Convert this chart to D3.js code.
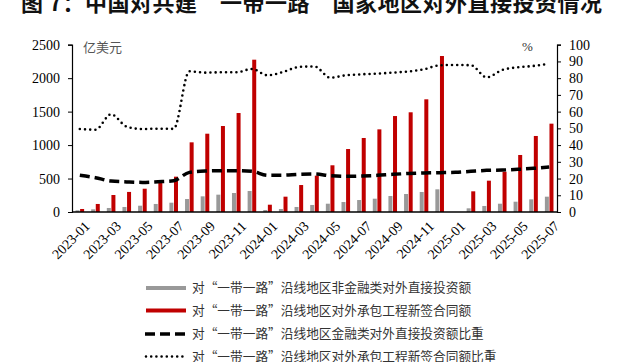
<!DOCTYPE html>
<html>
<head>
<meta charset="utf-8">
<script src="https://cdn.jsdelivr.net/npm/d3@7/dist/d3.min.js"></script>
<style>
  body { margin: 0; background: #fff; }
  svg { display: block; }
  .tick text { font-family: "Liberation Serif", "Times New Roman", serif; font-size: 14px; fill: #000; }
  .cn { font-family: "Noto Sans CJK SC", sans-serif; }
</style>
</head>
<body>
<div id="chart"></div>
<script>
// month labels
const months = [
  "2023-01","2023-02","2023-03","2023-04","2023-05","2023-06","2023-07","2023-08",
  "2023-09","2023-10","2023-11","2023-12","2024-01","2024-02","2024-03","2024-04",
  "2024-05","2024-06","2024-07","2024-08","2024-09","2024-10","2024-11","2024-12",
  "2025-01","2025-02","2025-03","2025-04","2025-05","2025-06","2025-07"
];
// 亿美元
const nonFinInvest = [25,40,60,75,94,120,139,194,234,259,284,314,
  30,45,75,105,124,149,179,199,239,269,299,339,
  null,55,90,124,154,189,229];
const contractNew = [45,120,254,300,348,468,528,1041,1170,1285,1479,2276,
  109,229,403,543,698,941,1106,1235,1434,1490,1684,2331,
  null,309,468,602,852,1136,1320];
// %
const finShare = [22,20.5,18.5,18,17.7,18.1,18.7,23.7,24.5,24.7,24.7,24.3,
  21.9,22,22.5,22.7,21.7,21.3,21.5,21.9,22.5,23,23.3,23.5,
  23.7,24.3,24.9,25.1,25.5,26.1,26.9];
const contractShare = [49.6,49.2,58.4,51,49.6,49.8,49.7,84.1,83.3,83.5,83.5,85.5,
  81.7,83.7,86.7,87,80.3,81.7,82.3,82.7,83.3,84,85.3,87.7,
  87.9,87.7,80.5,84.9,86.5,87.3,88.6];

const leftTicks = [0,500,1000,1500,2000,2500];
const rightTicks = [0,10,20,30,40,50,60,70,80,90,100];
const xLabels = months.filter((m, i) => i % 2 === 0);

const legendItems = [
  "对“一带一路”沿线地区非金融类对外直接投资额",
  "对“一带一路”沿线地区对外承包工程新签合同额",
  "对“一带一路”沿线地区金融类对外直接投资额比重",
  "对“一带一路”沿线地区对外承包工程新签合同额比重"
];

const width = 626, height = 362;
const plotL = 72, plotR = 557, plotT = 44.7, plotB = 212;

const svg = d3.select("#chart").append("svg")
  .attr("width", width)
  .attr("height", height);

// title (cut off at the top in the original)
svg.append("text")
  .attr("class", "cn")
  .attr("x", 21)
  .attr("y", 11)
  .style("font-size", "22px")
  .style("font-weight", "bold")
  .style("letter-spacing", "0.5px")
  .attr("fill", "#111")
  .text("图 7：中国对共建“一带一路”国家地区对外直接投资情况");

const x = d3.scaleBand().domain(months).range([plotL, plotR]).padding(0);
const yL = d3.scaleLinear().domain([0, 2500]).range([plotB, plotT]);
const yR = d3.scaleLinear().domain([0, 100]).range([plotB, plotT]);

const barW = 4;

// bars
svg.selectAll(".gray")
  .data(months.map((m, i) => ({ m, v: nonFinInvest[i] })).filter(d => d.v != null))
  .enter().append("rect")
  .attr("x", d => x(d.m) + x.bandwidth() / 2 - barW - 0.3)
  .attr("y", d => yL(d.v))
  .attr("width", barW)
  .attr("height", d => plotB - yL(d.v))
  .attr("fill", "#999999");

svg.selectAll(".red")
  .data(months.map((m, i) => ({ m, v: contractNew[i] })).filter(d => d.v != null))
  .enter().append("rect")
  .attr("x", d => x(d.m) + x.bandwidth() / 2 + 0.3)
  .attr("y", d => yL(d.v))
  .attr("width", barW)
  .attr("height", d => plotB - yL(d.v))
  .attr("fill", "#c00000");

// lines
const cx = m => x(m) + x.bandwidth() / 2;
const line = d3.line()
  .x((d, i) => cx(months[i]))
  .y(d => yR(d))
  .curve(d3.curveMonotoneX);

svg.append("path")
  .attr("d", line(finShare))
  .attr("fill", "none")
  .attr("stroke", "#000")
  .attr("stroke-width", 3.5)
  .attr("stroke-dasharray", "10,5");

svg.append("path")
  .attr("d", line(contractShare))
  .attr("fill", "none")
  .attr("stroke", "#000")
  .attr("stroke-width", 2.6)
  .attr("stroke-linecap", "round")
  .attr("stroke-dasharray", "0,5.2");

// axes
const axL = svg.append("g")
  .attr("transform", "translate(" + plotL + ",0)")
  .call(d3.axisLeft(yL).tickValues(leftTicks).tickSize(4).tickPadding(8).tickFormat(d3.format("d")));
const axR = svg.append("g")
  .attr("transform", "translate(" + plotR + ",0)")
  .call(d3.axisRight(yR).tickValues(rightTicks).tickSize(4).tickPadding(8));
[axL, axR].forEach(g => {
  g.select(".domain").attr("stroke", "#000").attr("stroke-width", 1.2);
  g.selectAll(".tick line").attr("stroke", "#000");
});

svg.append("line")
  .attr("x1", plotL).attr("x2", plotR)
  .attr("y1", plotB).attr("y2", plotB)
  .attr("stroke", "#000")
  .attr("stroke-width", 1.5);

// x labels
svg.selectAll(".xl")
  .data(xLabels)
  .enter().append("text")
  .attr("transform", d => "translate(" + (cx(d) + 4) + "," + (plotB + 8) + ") rotate(-45)")
  .attr("text-anchor", "end")
  .attr("dy", "0.7em")
  .style("font-family", "'Liberation Serif', 'Times New Roman', serif")
  .style("font-size", "14px")
  .text(d => d);

// unit labels
svg.append("text")
  .attr("class", "cn")
  .attr("x", 83).attr("y", 52)
  .style("font-size", "13px")
  .attr("fill", "#555")
  .text("亿美元");
svg.append("text")
  .attr("x", 522).attr("y", 51)
  .style("font-family", "'Liberation Serif', serif")
  .style("font-size", "13px")
  .attr("fill", "#333")
  .text("%");

// legend
const legY = [288, 310.5, 334, 356.5];
const leg = svg.append("g");
leg.append("line")
  .attr("x1", 146).attr("x2", 186).attr("y1", legY[0]).attr("y2", legY[0])
  .attr("stroke", "#999999").attr("stroke-width", 4);
leg.append("line")
  .attr("x1", 146).attr("x2", 186).attr("y1", legY[1]).attr("y2", legY[1])
  .attr("stroke", "#c00000").attr("stroke-width", 4);
leg.append("line")
  .attr("x1", 145).attr("x2", 185).attr("y1", legY[2]).attr("y2", legY[2])
  .attr("stroke", "#000").attr("stroke-width", 3.5)
  .attr("stroke-dasharray", "10,5");
leg.append("line")
  .attr("x1", 146).attr("x2", 186).attr("y1", legY[3]).attr("y2", legY[3])
  .attr("stroke", "#000").attr("stroke-width", 2.6)
  .attr("stroke-linecap", "round")
  .attr("stroke-dasharray", "0,5.2");

leg.selectAll(".lt")
  .data(legendItems)
  .enter().append("text")
  .attr("class", "cn")
  .attr("x", 192)
  .attr("y", (d, i) => legY[i])
  .attr("dy", "0.35em")
  .style("font-size", "12.7px")
  .attr("fill", "#333")
  .text(d => d);
</script>
</body>
</html>
